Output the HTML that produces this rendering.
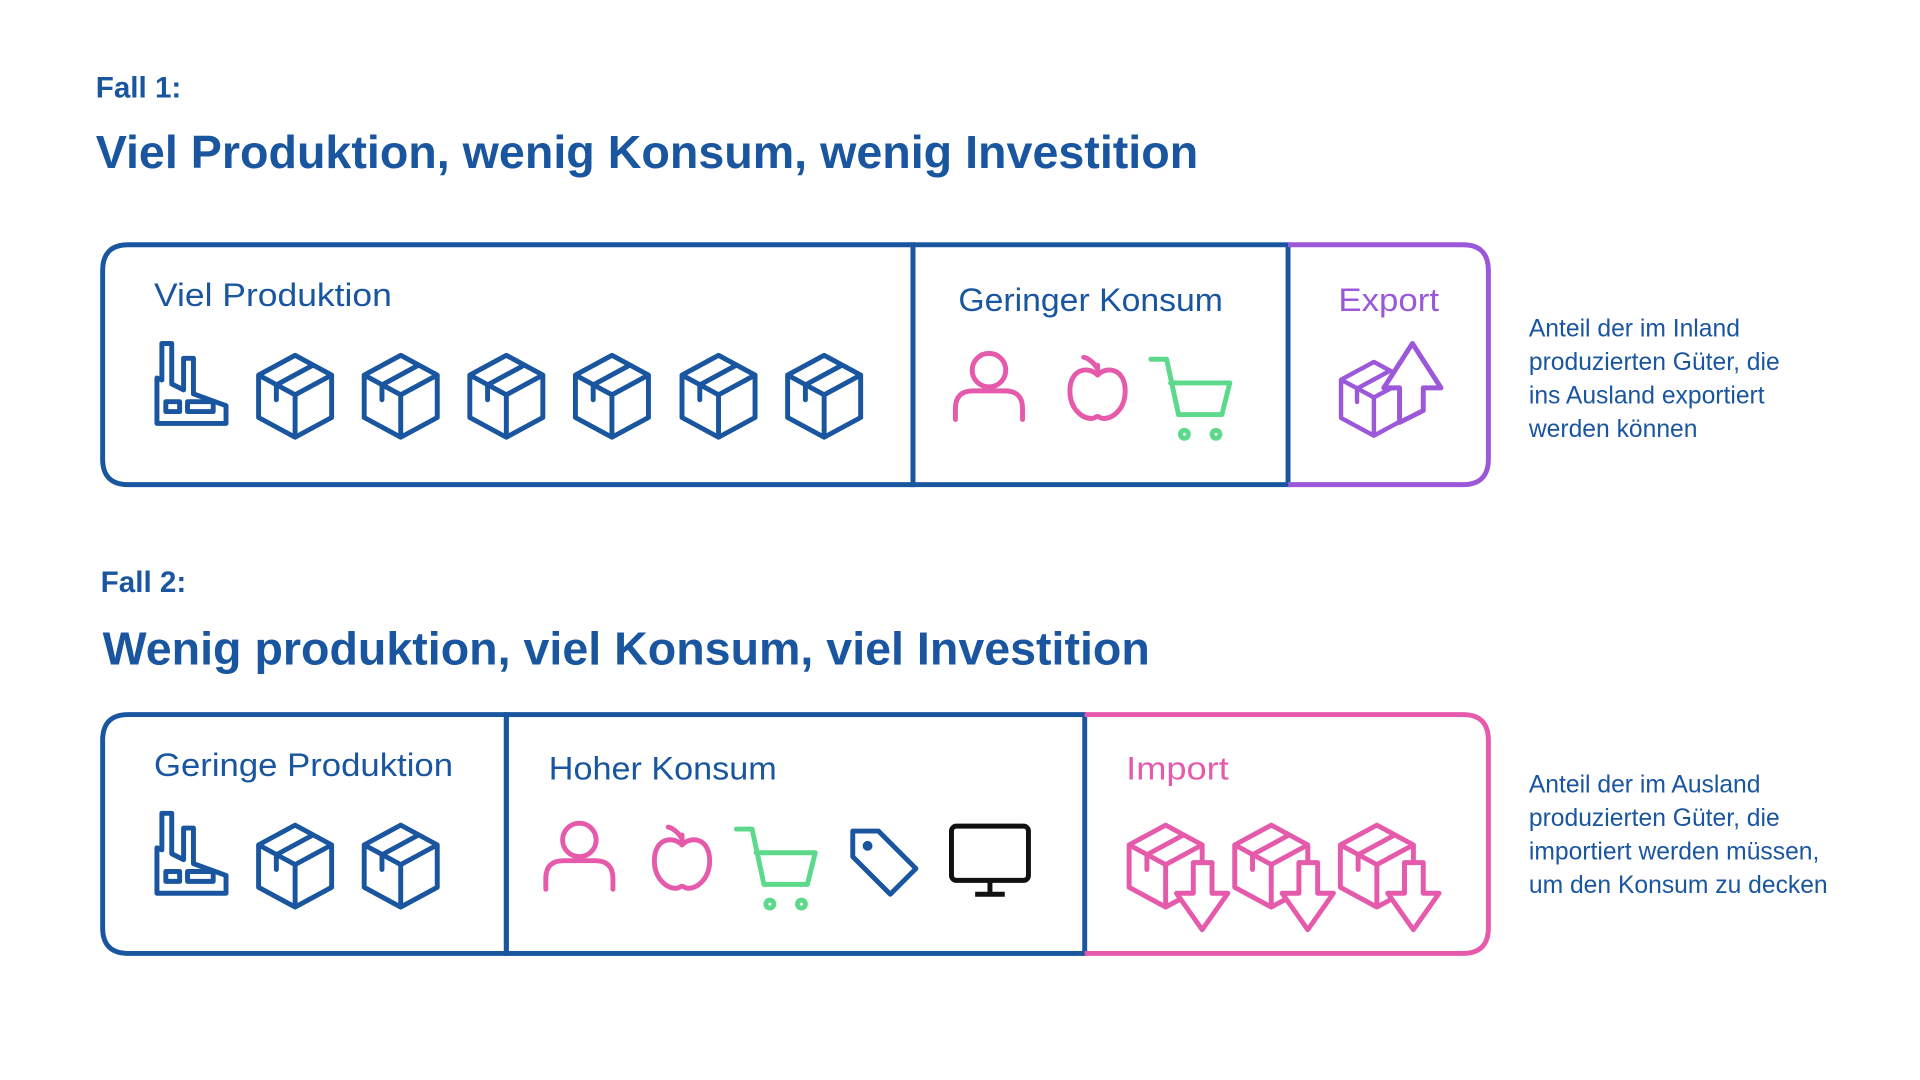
<!DOCTYPE html>
<html><head><meta charset="utf-8"><style>
html,body{margin:0;padding:0;background:#fff;}
svg{display:block;}
text{font-family:"Liberation Sans",sans-serif;}
</style></head><body>
<svg width="1920" height="1080" viewBox="0 0 1920 1080" xmlns="http://www.w3.org/2000/svg">
<defs>
<g id="cube" fill="none" stroke-width="5" stroke-linejoin="round" stroke-linecap="round">
<path d="M40,3 L77,23 V66 L40,86 L3,66 V23 Z M3,23 L40,43 L77,23 M40,43 V86 M58,13 L21,33 V48"/>
</g>
<g id="factory" fill="none" stroke-width="5" stroke-linejoin="round">
<path d="M3,84 V38 L8,40 V3 H18 V44 L30,50 V18 H40 V54 L73,66 V84 Z"/>
<rect x="12" y="62" width="14" height="10"/><rect x="34" y="62" width="26" height="10"/>
</g>
<g id="person" fill="none" stroke-width="5" stroke-linecap="round">
<circle cx="0" cy="-17" r="17"/>
<path d="M-34,33 V22 Q-34,4 -16,4 H16 Q34,4 34,22 V33"/>
</g>
<g id="apple" fill="none" stroke-width="5" stroke-linejoin="round" stroke-linecap="round">
<path d="M0,-12 C-10,-22 -28,-18 -28,4 C-28,22 -16,32 -6,32 C-3,32 -2,30 0,30 C2,30 3,32 6,32 C16,32 28,22 28,4 C28,-18 10,-22 0,-12 Z"/>
<path d="M0,-12 V-22 M0,-18 C-4,-26 -12,-30 -14,-30"/>
</g>
<g id="cart" fill="none" stroke-width="5" stroke-linejoin="round" stroke-linecap="round">
<path d="M2,4 H18 L30,60 H74 L82,28 H22"/>
<circle cx="36" cy="80" r="4"/><circle cx="68" cy="80" r="4"/>
</g>
<g id="imp" stroke="#e55aab">
<use href="#cube" x="1141" y="833"/>
<path d="M1209,874 H1228 V905 H1244 L1218,942 L1192,905 H1209 Z" fill="#fff" stroke-width="5" stroke-linejoin="round"/>
</g>
</defs>
<g transform="scale(0.987)">
<text x="97" y="99" font-size="30" font-weight="bold" fill="#1a56a0">Fall 1:</text>
<text x="97" y="170" font-size="47" font-weight="bold" fill="#1a56a0" textLength="1117" lengthAdjust="spacingAndGlyphs">Viel Produktion, wenig Konsum, wenig Investition</text>
<text x="102" y="600" font-size="30" font-weight="bold" fill="#1a56a0">Fall 2:</text>
<text x="104" y="673" font-size="47" font-weight="bold" fill="#1a56a0" textLength="1061" lengthAdjust="spacingAndGlyphs">Wenig produktion, viel Konsum, viel Investition</text>

<path d="M925,248 H130 Q104,248 104,274 V465 Q104,491 130,491 H925 Z" fill="none" stroke="#1a56a0" stroke-width="5"/>
<rect x="925" y="248" width="380" height="243" fill="none" stroke="#1a56a0" stroke-width="5"/>
<path d="M1305,248 H1482 Q1508,248 1508,274 V465 Q1508,491 1482,491 H1305" fill="none" stroke="#9b59d9" stroke-width="5"/>

<text x="156" y="310" font-size="33" fill="#1a56a0" textLength="241" lengthAdjust="spacingAndGlyphs">Viel Produktion</text>
<text x="971" y="315" font-size="33" fill="#1a56a0" textLength="268" lengthAdjust="spacingAndGlyphs">Geringer Konsum</text>
<text x="1356" y="315" font-size="33" fill="#9b59d9" textLength="102" lengthAdjust="spacingAndGlyphs">Export</text>

<use href="#factory" x="156" y="345" stroke="#1a56a0"/>
<use href="#cube" x="259" y="357" stroke="#1a56a0"/>
<use href="#cube" x="366" y="357" stroke="#1a56a0"/>
<use href="#cube" x="473" y="357" stroke="#1a56a0"/>
<use href="#cube" x="580" y="357" stroke="#1a56a0"/>
<use href="#cube" x="688" y="357" stroke="#1a56a0"/>
<use href="#cube" x="795" y="357" stroke="#1a56a0"/>

<use href="#person" x="1002" y="392" stroke="#e55aab"/>
<use href="#apple" x="1112" y="392" stroke="#e55aab"/>
<use href="#cart" x="1164" y="360" stroke="#5cd98a"/>

<!-- export icon -->
<g stroke="#9b59d9">
<g transform="translate(1356,364) scale(0.9)"><use href="#cube"/></g>
<path d="M1418,428 V393 H1402 L1431,348 L1460,393 H1442 V416 Z" fill="#fff" stroke-width="5" stroke-linejoin="round"/>
</g>

<g font-size="25" fill="#1a56a0">
<text x="1549" y="341">Anteil der im Inland</text>
<text x="1549" y="375">produzierten Güter, die</text>
<text x="1549" y="409">ins Ausland exportiert</text>
<text x="1549" y="443">werden können</text>
</g>

<path d="M513,724 H130 Q104,724 104,750 V940 Q104,966 130,966 H513 Z" fill="none" stroke="#1a56a0" stroke-width="5"/>
<rect x="513" y="724" width="586" height="242" fill="none" stroke="#1a56a0" stroke-width="5"/>
<path d="M1099,724 H1482 Q1508,724 1508,750 V940 Q1508,966 1482,966 H1099" fill="none" stroke="#e55aab" stroke-width="5"/>

<text x="156" y="786" font-size="33" fill="#1a56a0" textLength="303" lengthAdjust="spacingAndGlyphs">Geringe Produktion</text>
<text x="556" y="790" font-size="33" fill="#1a56a0" textLength="231" lengthAdjust="spacingAndGlyphs">Hoher Konsum</text>
<text x="1141" y="790" font-size="33" fill="#e55aab" textLength="104" lengthAdjust="spacingAndGlyphs">Import</text>

<use href="#factory" x="156" y="821" stroke="#1a56a0"/>
<use href="#cube" x="259" y="833" stroke="#1a56a0"/>
<use href="#cube" x="366" y="833" stroke="#1a56a0"/>

<use href="#person" x="587" y="868" stroke="#e55aab"/>
<use href="#apple" x="691" y="868" stroke="#e55aab"/>
<use href="#cart" x="744" y="836" stroke="#5cd98a"/>
<g fill="none" stroke="#1a56a0" stroke-width="5" stroke-linejoin="round">
<path d="M864,842 H890 L928,880 L902,906 L864,868 Z"/>
<circle cx="879" cy="857" r="2.5" fill="#1a56a0"/>
</g>
<g fill="none" stroke="#111" stroke-width="5" stroke-linejoin="round">
<rect x="964" y="837" width="78" height="55" rx="5"/>
<path d="M1003,892 V906 M988,906 H1018"/>
</g>

<use href="#imp"/>
<use href="#imp" x="107"/>
<use href="#imp" x="214"/>

<g font-size="25" fill="#1a56a0">
<text x="1549" y="803">Anteil der im Ausland</text>
<text x="1549" y="837">produzierten Güter, die</text>
<text x="1549" y="871">importiert werden müssen,</text>
<text x="1549" y="905">um den Konsum zu decken</text>
</g>
</g>
</svg>
</body></html>
